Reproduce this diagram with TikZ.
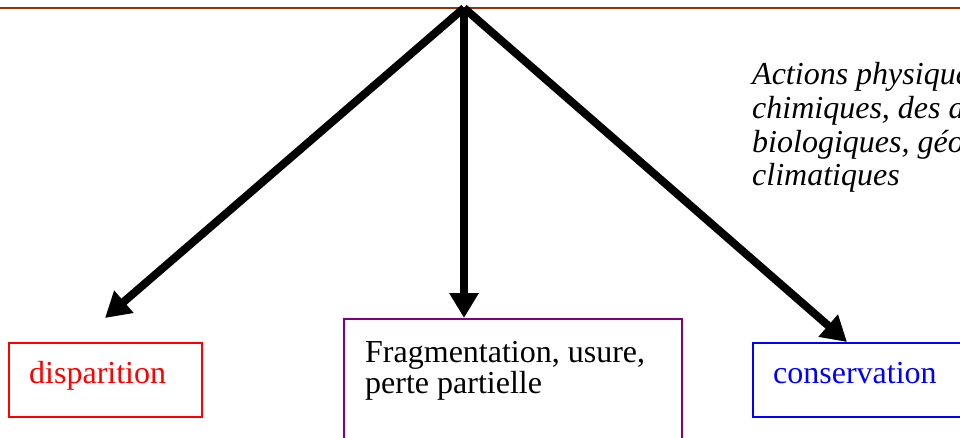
\documentclass[tikz,border=0pt]{standalone}
\usepackage{fontspec}
\setmainfont{Liberation Serif}
\usetikzlibrary{arrows.meta}
\definecolor{brownline}{HTML}{993300}
\definecolor{purplebox}{HTML}{800080}
\begin{document}
\begin{tikzpicture}[x=1pt,y=-1pt,
  arr/.style={line width=8pt,black,-{Triangle[length=25pt,width=28pt]}},
  boxe/.style={draw,line width=2pt,inner sep=0pt,anchor=north west},
  txt/.style={inner sep=0pt,anchor=base west,font=\fontsize{32}{32}\selectfont},
  itxt/.style={txt,font=\fontsize{32}{32}\selectfont\itshape}]
\useasboundingbox (0,0) rectangle (960,437);
\clip (0,0) rectangle (960,437);
% top line
\draw[brownline,line width=2pt] (0,8) -- (960,8);
% boxes
\node[boxe,red,minimum width=193pt,minimum height=74pt] (b1) at (8,342) {};
\node[boxe,purplebox,minimum width=338pt,minimum height=140pt] (b2) at (343,318) {};
\node[boxe,blue,minimum width=240pt,minimum height=74pt] (b3) at (752,342) {};
% texts
\node[txt,red] (t1) at (29,383) {disparition};
\node[txt] (t2a) at (365,362) {Fragmentation, usure,};
\node[txt] (t2b) at (365,393) {perte partielle};
\node[txt,blue] (t3) at (773,383) {conservation};
\node[itxt] (i1) at (752,84) {Actions physique};
\node[itxt] (i2) at (752,118) {chimiques, des a};
\node[itxt] (i3) at (752,152) {biologiques, géo};
\node[itxt] (i4) at (752,185) {climatiques};
% arrows
\coordinate (apex) at (464,8);
\coordinate (p1) at (105,318);
\coordinate (p3) at (847,342);
\draw[arr] (apex) -- (p1);
\draw[arr] (apex) -- (apex |- b2.north);
\draw[arr] (apex) -- (p3 |- b3.north);
\end{tikzpicture}
\end{document}
